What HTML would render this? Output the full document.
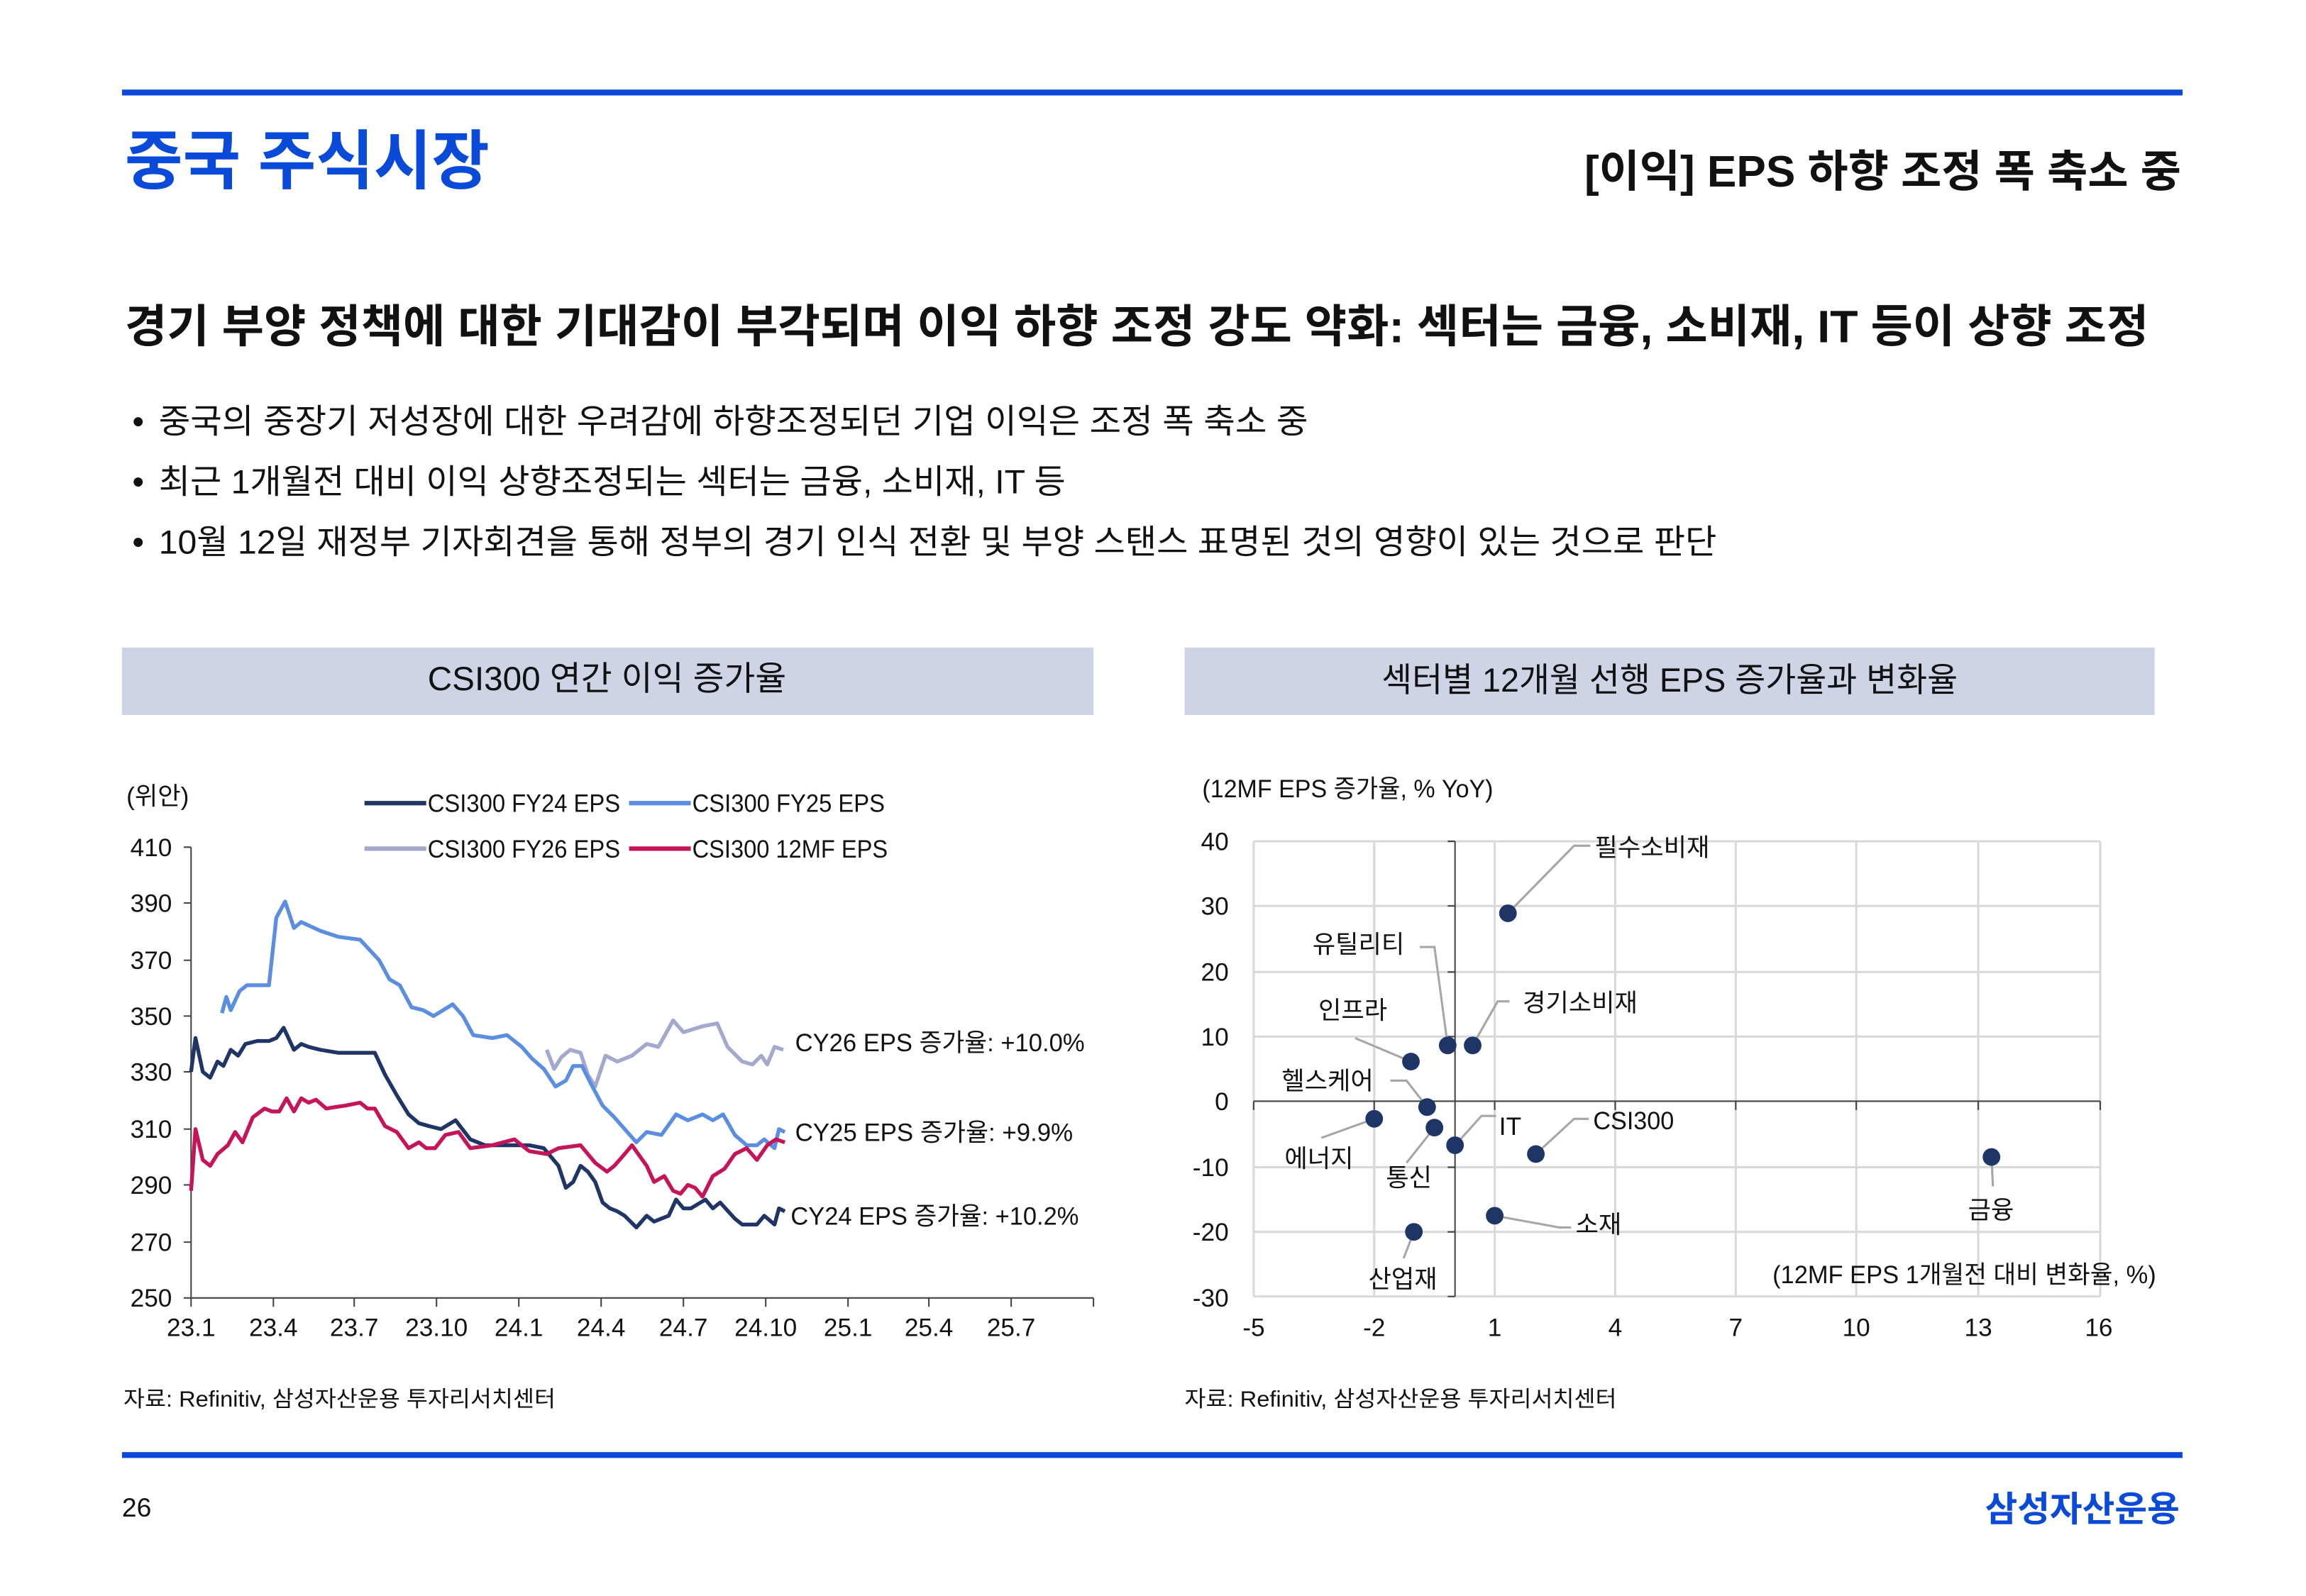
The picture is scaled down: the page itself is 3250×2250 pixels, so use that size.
<!DOCTYPE html>
<html><head><meta charset="utf-8"><style>
html,body{margin:0;padding:0;background:#fff;}
svg{display:block;font-family:"Liberation Sans","Noto Sans CJK KR",sans-serif;}
</style></head><body>
<svg width="3250" height="2250" viewBox="0 0 1569 1087" preserveAspectRatio="none" xmlns="http://www.w3.org/2000/svg">
<rect x="0" y="0" width="1569" height="1087" fill="#fff"/>
<rect x="83" y="61" width="1402" height="4" fill="#0a4ad8"/>
<text x="85" y="125" font-size="44" font-weight="bold" fill="#0a4ad8" textLength="248" lengthAdjust="spacingAndGlyphs">중국 주식시장</text>
<text x="1078" y="127" font-size="30" font-weight="bold" fill="#111" textLength="406" lengthAdjust="spacingAndGlyphs">[이익] EPS 하향 조정 폭 축소 중</text>
<text x="85" y="233" font-size="31" font-weight="bold" fill="#111" textLength="1377" lengthAdjust="spacingAndGlyphs">경기 부양 정책에 대한 기대감이 부각되며 이익 하향 조정 강도 약화: 섹터는 금융, 소비재, IT 등이 상향 조정</text>
<g font-size="23" fill="#111">
<text x="90" y="295">•</text><text x="108" y="295" textLength="782" lengthAdjust="spacingAndGlyphs">중국의 중장기 저성장에 대한 우려감에 하향조정되던 기업 이익은 조정 폭 축소 중</text>
<text x="90" y="336">•</text><text x="108" y="336" textLength="617" lengthAdjust="spacingAndGlyphs">최근 1개월전 대비 이익 상향조정되는 섹터는 금융, 소비재, IT 등</text>
<text x="90" y="377">•</text><text x="108" y="377" textLength="1060" lengthAdjust="spacingAndGlyphs">10월 12일 재정부 기자회견을 통해 정부의 경기 인식 전환 및 부양 스탠스 표명된 것의 영향이 있는 것으로 판단</text>
</g>
<rect x="83" y="441" width="661" height="46" fill="#ced3e6"/>
<rect x="806" y="441" width="660" height="46" fill="#ced3e6"/>
<text x="413" y="470" font-size="23" text-anchor="middle" fill="#111" textLength="244" lengthAdjust="spacingAndGlyphs">CSI300 연간 이익 증가율</text>
<text x="1136" y="471" font-size="23" text-anchor="middle" fill="#111" textLength="392" lengthAdjust="spacingAndGlyphs">섹터별 12개월 선행 EPS 증가율과 변화율</text>

<g font-size="17" fill="#111">
<text x="86" y="548">(위안)</text>
<g text-anchor="end">
<text x="117" y="583">410</text><text x="117" y="621">390</text><text x="117" y="660">370</text>
<text x="117" y="698">350</text><text x="117" y="736">330</text><text x="117" y="775">310</text>
<text x="117" y="813">290</text><text x="117" y="852">270</text><text x="117" y="890">250</text>
</g>
<g text-anchor="middle">
<text x="130" y="910">23.1</text><text x="186" y="910">23.4</text><text x="241" y="910">23.7</text>
<text x="297" y="910">23.10</text><text x="353" y="910">24.1</text><text x="409" y="910">24.4</text>
<text x="465" y="910">24.7</text><text x="521" y="910">24.10</text><text x="577" y="910">25.1</text>
<text x="632" y="910">25.4</text><text x="688" y="910">25.7</text>
</g>
</g>
<g stroke="#444" stroke-width="1" fill="none">
<line x1="130" y1="577" x2="130" y2="884"/>
<line x1="130" y1="884" x2="744" y2="884"/>
<path d="M125 577H130M125 615H130M125 654H130M125 692H130M125 730H130M125 769H130M125 807H130M125 846H130M125 884H130"/>
<path d="M130 884V890M186 884V890M241 884V890M297 884V890M353 884V890M409 884V890M465 884V890M521 884V890M577 884V890M632 884V890M688 884V890M744 884V890"/>
</g>
<line x1="248" y1="547" x2="290" y2="547" stroke="#1e3566" stroke-width="3"/>
<text x="291" y="553" font-size="17" fill="#111" textLength="131" lengthAdjust="spacingAndGlyphs">CSI300 FY24 EPS</text>
<line x1="428" y1="547" x2="470" y2="547" stroke="#5b8ee0" stroke-width="3"/>
<text x="471" y="553" font-size="17" fill="#111" textLength="131" lengthAdjust="spacingAndGlyphs">CSI300 FY25 EPS</text>
<line x1="248" y1="578" x2="290" y2="578" stroke="#a3a8cc" stroke-width="3"/>
<text x="291" y="584" font-size="17" fill="#111" textLength="131" lengthAdjust="spacingAndGlyphs">CSI300 FY26 EPS</text>
<line x1="428" y1="578" x2="470" y2="578" stroke="#c5145a" stroke-width="3"/>
<text x="471" y="584" font-size="17" fill="#111" textLength="133" lengthAdjust="spacingAndGlyphs">CSI300 12MF EPS</text>

<g fill="none" stroke-width="2.6" stroke-linejoin="round">
<polyline stroke="#a3a8cc" points="372,715 377,728 382,720 388,715 395,717 400,732 405,740 412,719 420,723 430,719 440,711 448,713 458,695 465,703 478,699 488,697 495,713 505,723 512,725 518,719 522,725 527,713 533,715"/>
<polyline stroke="#5b8ee0" points="151,690 154,679 157,688 163,675 168,671 183,671 188,625 194,614 200,632 205,628 218,634 230,638 245,640 258,654 265,667 272,671 280,686 288,688 295,692 308,684 315,692 322,705 335,707 345,705 355,713 362,721 370,728 378,740 385,736 390,726 396,726 402,738 410,753 418,761 425,769 433,778 440,771 450,773 460,759 468,763 478,759 485,763 492,759 500,773 508,780 515,780 520,776 527,782 530,769 534,771"/>
<polyline stroke="#1e3566" points="130,730 133,707 138,730 143,734 148,723 152,726 157,715 162,719 167,711 175,709 183,709 188,707 193,700 200,715 205,711 210,713 218,715 230,717 245,717 255,717 262,732 270,746 278,759 285,765 292,767 300,769 310,763 320,776 330,780 345,780 360,780 370,782 380,794 385,809 390,805 395,794 400,798 405,805 410,819 415,823 420,825 425,828 433,836 440,828 445,832 450,830 455,828 460,817 465,823 470,823 480,817 485,823 490,819 500,830 505,834 515,834 520,828 527,834 530,823 534,825"/>
<polyline stroke="#c5145a" points="130,811 133,769 138,790 143,794 148,786 155,780 160,771 165,778 172,761 180,755 185,757 190,757 195,748 200,757 205,748 210,751 215,749 222,755 228,754 235,753 245,751 250,755 255,755 262,767 270,771 278,782 285,778 290,782 296,782 303,773 312,771 320,782 335,780 350,776 360,784 372,786 380,782 395,780 400,786 405,792 413,798 418,794 425,786 430,780 440,794 445,805 452,801 458,811 463,813 468,807 473,809 478,815 485,801 493,796 500,786 508,782 515,790 522,780 528,776 534,778"/>
</g>
<g font-size="17" fill="#111">
<text x="541" y="716" textLength="197" lengthAdjust="spacingAndGlyphs">CY26 EPS 증가율: +10.0%</text>
<text x="541" y="777" textLength="189" lengthAdjust="spacingAndGlyphs">CY25 EPS 증가율: +9.9%</text>
<text x="538" y="834" textLength="196" lengthAdjust="spacingAndGlyphs">CY24 EPS 증가율: +10.2%</text>
</g>
<text x="84" y="958" font-size="15" fill="#111" textLength="294" lengthAdjust="spacingAndGlyphs">자료: Refinitiv, 삼성자산운용 투자리서치센터</text>

<text x="818" y="543" font-size="17" fill="#111" textLength="198" lengthAdjust="spacingAndGlyphs">(12MF EPS 증가율, % YoY)</text>
<g stroke="#d9d9d9" stroke-width="1.5" fill="none">
<path d="M853 573H1429M853 617H1429M853 662H1429M853 706H1429M853 795H1429M853 839H1429M853 883H1429"/>
<path d="M853 573V883M935 573V883M1017 573V883M1099 573V883M1181 573V883M1263 573V883M1346 573V883M1429 573V883"/>
</g>
<g stroke="#444" stroke-width="1" fill="none">
<line x1="990" y1="573" x2="990" y2="883"/>
<line x1="853" y1="750" x2="1429" y2="750"/>
<path d="M853 750V756M935 750V756M1017 750V756M1099 750V756M1181 750V756M1263 750V756M1346 750V756M1429 750V756"/>
<path d="M985 573H990M985 617H990M985 662H990M985 706H990M985 795H990M985 839H990M985 883H990"/>
</g>
<g font-size="17" fill="#111" text-anchor="end">
<text x="836" y="579">40</text><text x="836" y="623">30</text><text x="836" y="668">20</text>
<text x="836" y="712">10</text><text x="836" y="756">0</text><text x="836" y="801">-10</text>
<text x="836" y="845">-20</text><text x="836" y="890">-30</text>
</g>
<g font-size="17" fill="#111" text-anchor="middle">
<text x="853" y="910">-5</text><text x="935" y="910">-2</text><text x="1017" y="910">1</text>
<text x="1099" y="910">4</text><text x="1181" y="910">7</text><text x="1263" y="910">10</text>
<text x="1346" y="910">13</text><text x="1428" y="910">16</text>
</g>
<g stroke="#a6a6a6" stroke-width="1.5" fill="none">
<polyline points="1026,622 1071,576 1082,576"/>
<polyline points="985,712 976,645 966,645"/>
<polyline points="1002,712 1019,682 1027,682"/>
<polyline points="960,723 922,707"/>
<polyline points="971,754 957,736 946,736"/>
<polyline points="935,762 899,775"/>
<polyline points="976,768 957,792"/>
<polyline points="990,780 1008,760 1018,760"/>
<polyline points="1045,786 1071,762 1081,762"/>
<polyline points="1355,788 1356,808"/>
<polyline points="1017,828 1061,836 1069,836"/>
<polyline points="962,839 955,857"/>
</g>
<g fill="#1e3566">
<circle cx="1026" cy="622" r="6"/><circle cx="985" cy="712" r="6"/><circle cx="1002" cy="712" r="6"/>
<circle cx="960" cy="723" r="6"/><circle cx="971" cy="754" r="6"/><circle cx="935" cy="762" r="6"/>
<circle cx="976" cy="768" r="6"/><circle cx="990" cy="780" r="6"/><circle cx="1045" cy="786" r="6"/>
<circle cx="1355" cy="788" r="6"/><circle cx="1017" cy="828" r="6"/><circle cx="962" cy="839" r="6"/>
</g>
<g font-size="17" fill="#111">
<text x="1085" y="583">필수소비재</text>
<text x="893" y="649">유틸리티</text>
<text x="1036" y="689">경기소비재</text>
<text x="897" y="694">인프라</text>
<text x="872" y="742">헬스케어</text>
<text x="1020" y="773">IT</text>
<text x="1084" y="769" textLength="55" lengthAdjust="spacingAndGlyphs">CSI300</text>
<text x="874" y="795">에너지</text>
<text x="943" y="808">통신</text>
<text x="1339" y="830">금융</text>
<text x="1072" y="840">소재</text>
<text x="931" y="877">산업재</text>
<text x="1206" y="874" textLength="261" lengthAdjust="spacingAndGlyphs">(12MF EPS 1개월전 대비 변화율, %)</text>
</g>
<text x="806" y="958" font-size="15" fill="#111" textLength="294" lengthAdjust="spacingAndGlyphs">자료: Refinitiv, 삼성자산운용 투자리서치센터</text>

<rect x="83" y="989" width="1402" height="4" fill="#0a4ad8"/>
<text x="83" y="1033" font-size="18" fill="#111">26</text>
<text x="1483" y="1036" font-size="24" font-weight="bold" fill="#0a4ad8" text-anchor="end">삼성자산운용</text>
</svg>
</body></html>
